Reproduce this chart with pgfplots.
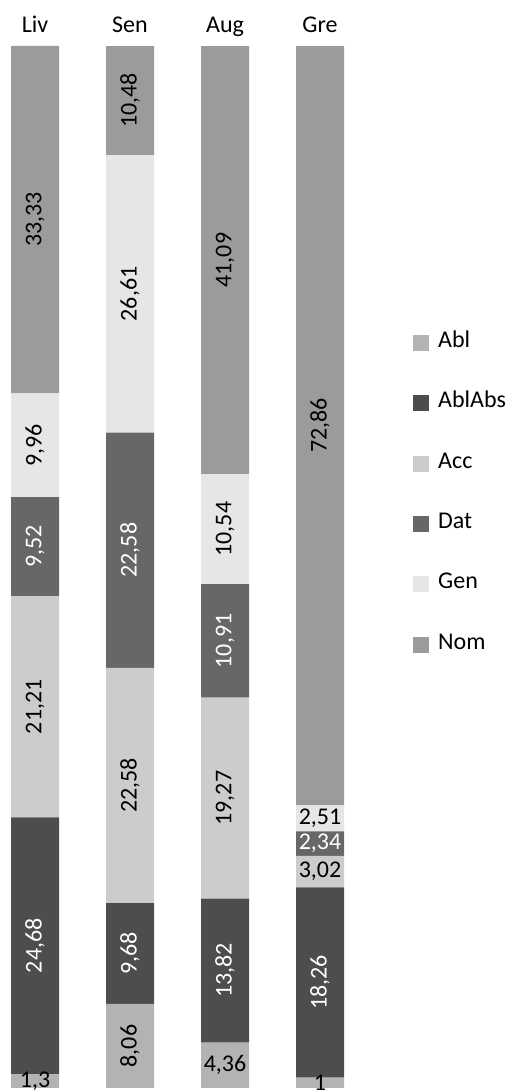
\documentclass[border=0pt]{standalone}
\usepackage{pgfplots}
\pgfplotsset{compat=1.18}
\usepackage{pgfplotstable}
\usepackage{fontspec}
\setmainfont{Carlito}
\definecolor{cAbl}{HTML}{B3B3B3}
\definecolor{cAblAbs}{HTML}{4D4D4D}
\definecolor{cAcc}{HTML}{CCCCCC}
\definecolor{cDat}{HTML}{676767}
\definecolor{cGen}{HTML}{E6E6E6}
\definecolor{cNom}{HTML}{9B9B9B}

\pgfplotstableread{
x y lab
35 1.30 {1,3}
130 8.06 {8,06}
225 4.36 {4,36}
320 1.00 {1}
}\tabAbl
\pgfplotstableread{
x y lab
35 24.68 {24,68}
130 9.68 {9,68}
225 13.82 {13,82}
320 18.26 {18,26}
}\tabAblAbs
\pgfplotstableread{
x y lab
35 21.21 {21,21}
130 22.58 {22,58}
225 19.27 {19,27}
320 3.02 {3,02}
}\tabAcc
\pgfplotstableread{
x y lab
35 9.52 {9,52}
130 22.58 {22,58}
225 10.91 {10,91}
320 2.34 {2,34}
}\tabDat
\pgfplotstableread{
x y lab
35 9.96 {9,96}
130 26.61 {26,61}
225 10.54 {10,54}
320 2.51 {2,51}
}\tabGen
\pgfplotstableread{
x y lab
35 33.33 {33,33}
130 10.48 {10,48}
225 41.09 {41,09}
320 72.86 {72,86}
}\tabNom

\begin{document}
\begin{tikzpicture}
\begin{axis}[
  at={(0,0)}, anchor=south west,
  scale only axis, width=513pt, height=1091pt,
  xmin=0, xmax=513, ymin=-0.29, ymax=104.41,
  ybar stacked, bar width=48,
  axis line style={draw=none},
  tick style={draw=none},
  ytick=\empty,
  xtick={35,130,225,320},
  xticklabels={Liv,Sen,Aug,Gre},
  xticklabel pos=upper,
  xticklabel style={anchor=base, yshift=-33pt, font=\fontsize{24}{28}\selectfont},
  nodes near coords={\pgfplotspointmeta},
  point meta=explicit symbolic,
  visualization depends on={rawy\as\rawy},
  visualization depends on={90*(rawy>=6)\as\rot},
  every node near coord/.append style={anchor=center, rotate=\rot, font=\fontsize{24}{28}\selectfont, inner sep=0pt},
  legend cell align=left,
  legend image code/.code={\fill[#1] (0pt,-8pt) rectangle (16pt,8pt);},
  legend style={draw=none, fill=none, at={(axis cs:413,72.3)}, anchor=north west, inner sep=0pt, row sep=44.4pt, font=\fontsize{24}{28}\selectfont, nodes={inner sep=0pt, text height=12pt, text depth=3pt}, /tikz/every odd column/.append style={column sep=9pt}},
]
\addplot[fill=cAbl, draw=none] table[x=x,y=y,meta=lab]{\tabAbl};
\addplot[fill=cAblAbs, draw=none, every node near coord/.append style={text=white}] table[x=x,y=y,meta=lab]{\tabAblAbs};
\addplot[fill=cAcc, draw=none] table[x=x,y=y,meta=lab]{\tabAcc};
\addplot[fill=cDat, draw=none, every node near coord/.append style={text=white}] table[x=x,y=y,meta=lab]{\tabDat};
\addplot[fill=cGen, draw=none] table[x=x,y=y,meta=lab]{\tabGen};
\addplot[fill=cNom, draw=none] table[x=x,y=y,meta=lab]{\tabNom};
\legend{Abl,AblAbs,Acc,Dat,Gen,Nom}
\end{axis}
\end{tikzpicture}
\end{document}
